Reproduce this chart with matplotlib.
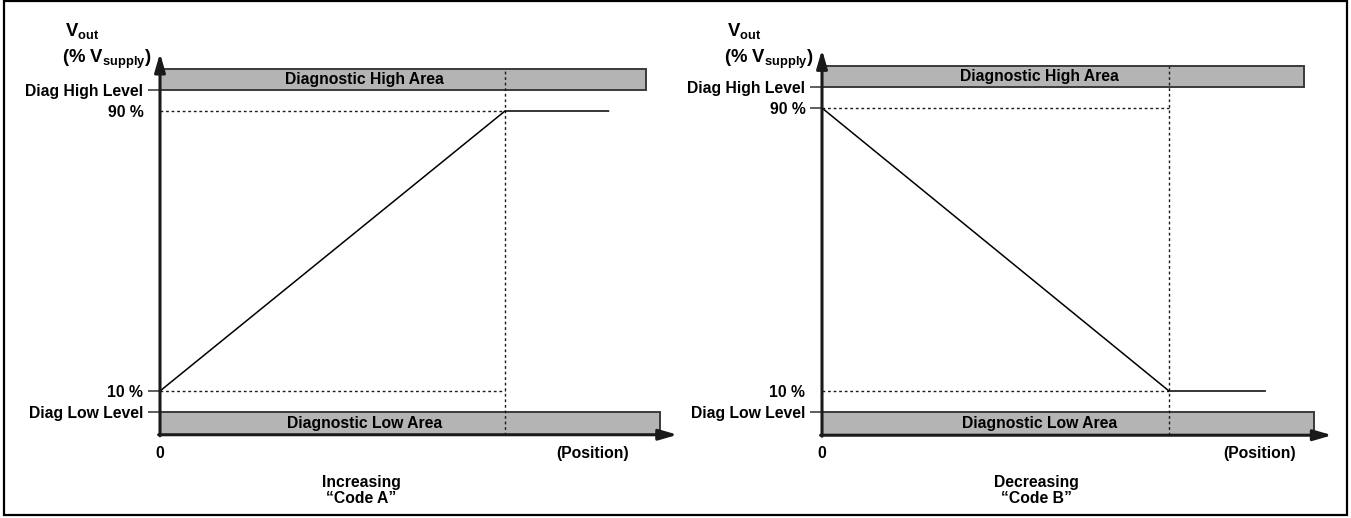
import matplotlib
matplotlib.use("Agg")
import matplotlib.pyplot as plt
from matplotlib.patches import Rectangle

plt.rcParams['font.family'] = ['Liberation Sans', 'DejaVu Sans']
plt.rcParams['font.weight'] = 'bold'
plt.rcParams['mathtext.fontset'] = 'custom'
plt.rcParams['mathtext.bf'] = 'Liberation Sans:bold'
plt.rcParams['mathtext.rm'] = 'Liberation Sans:bold'
plt.rcParams['mathtext.it'] = 'Liberation Sans:bold'

# levels in % of Vsupply
diag_low = 4
diag_high = 96
area_top = 102
y_bottom = -2.5
y_top = 106.5
level_labels = ['Diag Low Level', '10 %', '90 %', 'Diag High Level']
level_values = [diag_low, 10, 90, diag_high]

# output curves (position, Vout %)
pos_a = [0, 1, 1.30]
vout_a = [10, 90, 90]
pos_b = [0, 1, 1.277]
vout_b = [90, 10, 10]

panels = [
    dict(pos=pos_a, vout=vout_a, start=10, title='Increasing\n\u201cCode A\u201d', title_x=0.583,
         high_end=1.41, low_end=1.45, xmax=1.50, text_x=0.594, pos_label_x=1.255,
         rect_px=(160, 345, 391, 3.5)),
    dict(pos=pos_b, vout=vout_b, start=90, title='Decreasing\n\u201cCode B\u201d', title_x=0.617,
         high_end=1.39, low_end=1.418, xmax=1.47, text_x=0.628, pos_label_x=1.262,
         rect_px=(822, 347, 391, 3.5375)),
]

W, H = 1351, 518
fig = plt.figure(figsize=(W / 100, H / 100), dpi=100)
fs = 11.3
dark = '#1a1a1a'
grey = '#b4b4b4'

for p in panels:
    x0, xscale, y10, yscale = p['rect_px']
    bottom_px = y10 + (10 - y_bottom) * yscale
    top_px = y10 - (y_top - 10) * yscale
    right_px = x0 + p['xmax'] * xscale
    ax = fig.add_axes([x0 / W, 1 - bottom_px / H, (right_px - x0) / W, (bottom_px - top_px) / H])
    ax.set_xlim(0, p['xmax'])
    ax.set_ylim(y_bottom, y_top)
    for s in ax.spines.values():
        s.set_visible(False)
    ax.patch.set_visible(False)

    # diagnostic areas
    ax.add_patch(Rectangle((0, diag_high), p['high_end'], area_top - diag_high,
                           facecolor=grey, edgecolor='#3a3a3a', lw=1.4, zorder=1))
    ax.add_patch(Rectangle((0, y_bottom), p['low_end'], diag_low - y_bottom,
                           facecolor=grey, edgecolor='#3a3a3a', lw=1.4, zorder=1))
    ax.text(p['text_x'], (diag_high + area_top) / 2, 'Diagnostic High Area', ha='center',
            va='center', fontsize=fs, fontweight='bold', zorder=3)
    ax.text(p['text_x'], (diag_low + y_bottom) / 2, 'Diagnostic Low Area', ha='center',
            va='center', fontsize=fs, fontweight='bold', zorder=3)

    # dotted guides
    ax.plot([0, 1], [90, 90], color=dark, lw=1, ls=(0, (2, 2)), zorder=2)
    ax.plot([0, 1], [10, 10], color=dark, lw=1, ls=(0, (2, 2)), zorder=2)
    ax.plot([1, 1], [y_bottom, area_top], color=dark, lw=1, ls=(0, (2, 2)), zorder=2)

    # output curve
    ax.plot(p['pos'], p['vout'], color='black', lw=1.1, zorder=4)

    # axes with arrows
    arrow = dict(arrowstyle='-|>,head_length=1.1,head_width=0.32', color=dark, lw=2.2,
                 shrinkA=0, shrinkB=0, mutation_scale=10)
    ax.annotate('', xy=(p['xmax'], y_bottom), xytext=(-0.004, y_bottom), arrowprops=arrow,
                annotation_clip=False, zorder=5)
    ax.annotate('', xy=(0, y_top), xytext=(0, y_bottom - 0.3), arrowprops=arrow,
                annotation_clip=False, zorder=5)

    # y tick labels
    major = [v for v in level_values if v in (diag_low, diag_high, p['start'])]
    minor = [v for v in level_values if v not in major]
    ax.set_yticks(major)
    ax.set_yticklabels([level_labels[level_values.index(v)] for v in major])
    ax.set_yticks(minor, minor=True)
    ax.set_yticklabels([level_labels[level_values.index(v)] for v in minor], minor=True)
    ax.tick_params(axis='y', which='major', length=8.6, width=1.1, color='#333333',
                   pad=3.4, labelsize=fs)
    ax.tick_params(axis='y', which='minor', length=0, pad=12.0, labelsize=fs)

    ax.set_xticks([0, p['pos_label_x']])
    ax.set_xticklabels(['0', '(Position)'])
    ax.tick_params(axis='x', length=0, pad=8, labelsize=fs)
    for lbl in ax.get_xticklabels() + ax.get_yticklabels(which='both'):
        lbl.set_fontweight('bold')

    ax.annotate(p['title'], xy=(p['title_x'], y_bottom),
                xytext=(0, -40), textcoords='offset pixels', ha='center', va='top',
                fontsize=fs, fontweight='bold', linespacing=1.08, annotation_clip=False)

    # axis title, anchored to the 10 % level
    ax.annotate(r'$\mathbf{V_{out}}$', xy=(0, 10), xycoords='data',
                xytext=(-95, 355), textcoords='offset pixels', ha='left', va='baseline',
                fontsize=13.3)
    ax.annotate(r'(% $\mathbf{V_{supply}}$)', xy=(0, 10), xycoords='data',
                xytext=(-98, 328), textcoords='offset pixels', ha='left', va='baseline',
                fontsize=13.3)

# outer frame
fig.patches.append(Rectangle((4 / W, 3 / H), 1343 / W, 514 / H, transform=fig.transFigure,
                             fill=False, edgecolor='black', lw=1.6))

fig.savefig('out.png', dpi=100)
